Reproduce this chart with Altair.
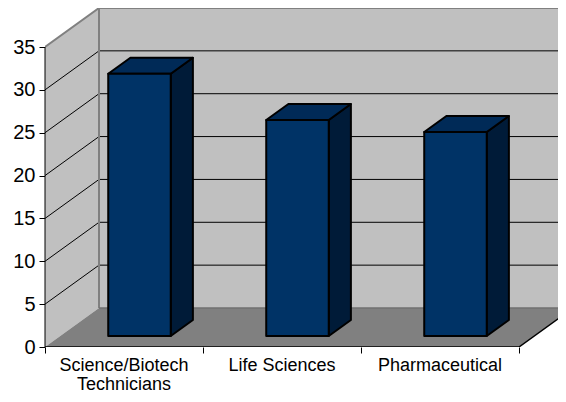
import altair as alt
import pandas as pd

categories = ["Science/Biotech\nTechnicians", "Life Sciences", "Pharmaceutical"]
values = [30.6, 25.2, 23.8]
y_ticks = [0, 5, 10, 15, 20, 25, 30, 35]
x_ticks = [0, 1, 2, 3]

# scale geometry, in data units
PX_X = 158.0
PX_Y = 300 / 35
W, H = 513, 339
XMAX = W / PX_X
YMAX = H / PX_Y
DX = 54 / PX_X
DY = 39 / PX_Y
XEND = 3 + DX
BAR_W = 62.5 / PX_X
BAR_GAP = 48 / PX_X
D0 = 11 / 39
D1 = 27 / 39
TOP = 35

x_scale = alt.Scale(domain=[0, XMAX], nice=False, zero=False)
y_scale = alt.Scale(domain=[0, YMAX], nice=False, zero=False)
X = alt.X(
    "x:Q", scale=x_scale, title=None,
    axis=alt.Axis(values=x_ticks, labels=False, domain=False, grid=False, title=None,
                  tickSize=6, tickColor="black", tickWidth=1),
)
Y = alt.Y(
    "y:Q", scale=y_scale, title=None,
    axis=alt.Axis(values=y_ticks, domain=False, grid=False, title=None, tickSize=6,
                  tickColor="black", tickWidth=1, labelFont="Liberation Sans",
                  labelFontSize=20, labelColor="black", labelPadding=4, labelFlush=False,
                  labelOverlap=False),
)
Y2 = alt.Y2("y2:Q")


def area(rows, fill, **kw):
    df = pd.DataFrame(rows, columns=["g", "x", "y", "y2"])
    return alt.Chart(df).mark_area(fill=fill, orient="vertical", **kw).encode(
        x=X, y=Y, y2=Y2, detail="g:N"
    )


def line(rows, color, width, **kw):
    df = pd.DataFrame(rows, columns=["g", "o", "x", "y"])
    return alt.Chart(df).mark_line(color=color, strokeWidth=width, **kw).encode(
        x=X, y=Y, order="o:Q", detail="g:N"
    )


layers = []

# walls and floor
layers.append(area([[0, DX, DY, TOP + DY], [0, XEND + 1, DY, TOP + DY]], "#C0C0C0", clip=True))
layers.append(area([[0, 0, 0, TOP], [0, DX, DY, TOP + DY]], "#C0C0C0", clip=True))
layers.append(area([[0, 0, 0, 0], [0, DX, 0, DY], [0, 3, 0, DY], [0, XEND, DY, DY]], "#808080", clip=True))

# gridlines
grid = []
for t in y_ticks[1:-1]:
    grid += [[t, 0, 0, t], [t, 1, DX, t + DY], [t, 2, XEND + 1, t + DY]]
layers.append(line(grid, "black", 1, clip=True))

# wall edges
layers.append(line([[0, 0, 0, TOP], [0, 1, DX, TOP + DY], [0, 2, XEND + 1, TOP + DY]], "#808080", 2, clip=True))
layers.append(line([[0, 0, DX, DY], [0, 1, DX, TOP + DY]], "#808080", 2, clip=True))
layers.append(line([[0, 0, DX, DY], [0, 1, XEND, DY]], "#707070", 1.5, clip=True))

# axis lines
layers.append(line([[0, 0, 0, 0], [0, 1, 0, TOP]], "black", 1))
layers.append(line([[0, 0, 0, 0], [0, 1, 3, 0], [0, 2, XEND, DY]], "black", 1.5, clip=True))

# bars
off_x0, off_y0 = DX * D0, DY * D0
off_x1, off_y1 = DX * D1, DY * D1
ddx, ddy = off_x1 - off_x0, off_y1 - off_y0
style = dict(stroke="black", strokeWidth=2, strokeJoin="round")
for i, v in enumerate(values):
    lx = i + BAR_GAP + off_x0
    rx = lx + BAR_W
    layers.append(area([[i, rx, off_y0, v + off_y0], [i, rx + ddx, off_y1, v + off_y1]], "#001B38", **style))
    layers.append(area([[i, lx, v + off_y0, v + off_y0], [i, lx + ddx, v + off_y0, v + off_y1],
                        [i, rx, v + off_y0, v + off_y1], [i, rx + ddx, v + off_y1, v + off_y1]],
                       "#002A57", **style))
    layers.append(area([[i, lx, off_y0, v + off_y0], [i, rx, off_y0, v + off_y0]], "#003366", **style))

# category labels
labels = pd.DataFrame({"cat": categories, "x": [i + 0.5 for i in range(3)], "y": [0.0] * 3})
layers.append(
    alt.Chart(labels).mark_text(
        font="Liberation Sans", fontSize=18, color="black", align="center", baseline="top",
        lineBreak="\n", lineHeight=19, dy=10,
    ).encode(x=X, y=Y, text="cat:N")
)

chart = alt.layer(*layers).properties(
    width=W, height=H, autosize="none",
    padding={"left": 37, "top": 0, "right": 0, "bottom": 47},
    background="white",
).configure_view(stroke=None)

chart.save("out.html", embed_options={"renderer": "svg", "actions": False})
